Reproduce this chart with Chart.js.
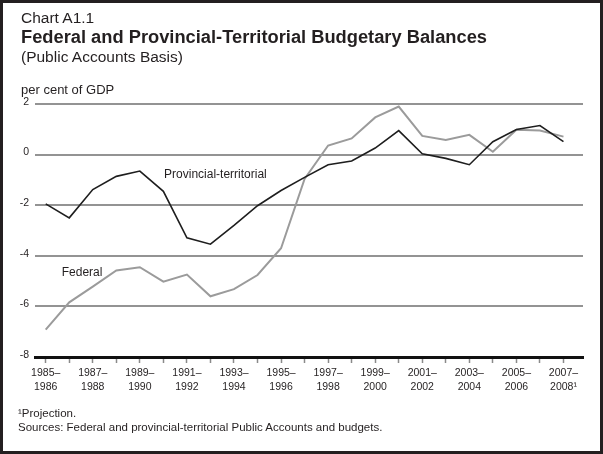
<!DOCTYPE html>
<html>
<head>
<meta charset="utf-8">
<script src="https://cdn.jsdelivr.net/npm/chart.js@4.4.1/dist/chart.umd.min.js"></script>
<style>
  html, body { margin: 0; padding: 0; background: #fff; }
  #wrap { position: relative; width: 603px; height: 454px; font-family: "Liberation Sans", Arial, Helvetica, sans-serif; color: #231f20; }
  #frame { position: absolute; left: 0; top: 0; width: 603px; height: 454px; box-sizing: border-box; border: 3px solid #231f20; pointer-events: none; }
  canvas { position: absolute; left: 0; top: 0; }
  .t { position: absolute; left: 21px; line-height: 1; white-space: nowrap; }
</style>
</head>
<body>
<div id="wrap">
  <canvas id="balanceChart" width="603" height="454"></canvas>
  <div class="t" style="top:10px; font-size:15.5px;">Chart A1.1</div>
  <div class="t" style="top:28px; font-size:18.3px; font-weight:bold;">Federal and Provincial-Territorial Budgetary Balances</div>
  <div class="t" style="top:48.5px; font-size:15.5px;">(Public Accounts Basis)</div>
  <div class="t" style="top:83px; font-size:13px;">per cent of GDP</div>
  <div class="t" style="left:18px; top:408px; font-size:11.5px;">¹Projection.</div>
  <div class="t" style="left:18px; top:421.5px; font-size:11.5px;">Sources: Federal and provincial-territorial Public Accounts and budgets.</div>
  <div id="frame"></div>
</div>
<script>
// fiscal years, 1985-1986 through 2007-2008 (last one is a projection)
const fiscalYears = [
  '1985–1986', '1986–1987', '1987–1988', '1988–1989', '1989–1990', '1990–1991',
  '1991–1992', '1992–1993', '1993–1994', '1994–1995', '1995–1996', '1996–1997',
  '1997–1998', '1998–1999', '1999–2000', '2000–2001', '2001–2002', '2002–2003',
  '2003–2004', '2004–2005', '2005–2006', '2006–2007', '2007–2008'
];

// every second year gets a two line label
const xTickLabels = [
  ['1985–', '1986'], ['1987–', '1988'], ['1989–', '1990'], ['1991–', '1992'],
  ['1993–', '1994'], ['1995–', '1996'], ['1997–', '1998'], ['1999–', '2000'],
  ['2001–', '2002'], ['2003–', '2004'], ['2005–', '2006'], ['2007–', '2008¹']
];

const yTicks = [2, 0, -2, -4, -6, -8];

// balances, per cent of GDP
const provincial = [
  -1.95, -2.5, -1.38, -0.86, -0.65, -1.45, -3.29, -3.54, -2.8, -2.02, -1.42, -0.9,
  -0.4, -0.25, 0.26, 0.95, 0.03, -0.15, -0.4, 0.51, 0.99, 1.15, 0.51
];
const federal = [
  -6.92, -5.84, -5.22, -4.58, -4.45, -5.02, -4.74, -5.6, -5.32, -4.76, -3.7, -0.96,
  0.36, 0.64, 1.47, 1.9, 0.74, 0.58, 0.78, 0.11, 0.98, 0.95, 0.71
];

const ink = '#231f20';
const font = '"Liberation Sans", Arial, Helvetica, sans-serif';

// line names written next to the lines, in data units
const lineNames = [
  { text: 'Provincial-territorial', x: 5.03, y: -0.92 },
  { text: 'Federal', x: 0.68, y: -4.79 }
];

const lineNamePlugin = {
  id: 'lineNames',
  afterDatasetsDraw(chart) {
    const { ctx, scales } = chart;
    ctx.save();
    ctx.font = '12px ' + font;
    ctx.fillStyle = ink;
    ctx.textAlign = 'left';
    ctx.textBaseline = 'alphabetic';
    lineNames.forEach(n => {
      ctx.fillText(n.text, scales.x.getPixelForValue(n.x), scales.y.getPixelForValue(n.y));
    });
    ctx.restore();
  }
};

const ctx = document.getElementById('balanceChart').getContext('2d');
new Chart(ctx, {
  type: 'line',
  data: {
    datasets: [
      {
        label: 'Provincial-territorial',
        data: provincial.map((v, i) => ({ x: i, y: v })),
        borderColor: '#1e1e1e',
        borderWidth: 1.6,
        pointRadius: 0,
        tension: 0
      },
      {
        label: 'Federal',
        data: federal.map((v, i) => ({ x: i, y: v })),
        borderColor: '#9b9b9b',
        borderWidth: 2,
        pointRadius: 0,
        tension: 0
      }
    ]
  },
  options: {
    responsive: false,
    animation: false,
    layout: { padding: { top: 104, right: 20, left: 0, bottom: 0 } },
    plugins: { legend: { display: false }, tooltip: { enabled: false } },
    scales: {
      x: {
        type: 'linear',
        min: -0.455,
        max: 22.83,
        afterBuildTicks: scale => {
          scale.ticks = fiscalYears.map((_, i) => ({ value: i }));
        },
        afterFit: scale => { scale.height = 97; },
        grid: {
          drawOnChartArea: false,
          drawTicks: true,
          tickLength: 6,
          tickColor: '#8a8a8a',
          tickWidth: 1.5
        },
        border: { display: true, color: '#111', width: 3 },
        ticks: {
          autoSkip: false,
          maxRotation: 0,
          padding: 3,
          color: ink,
          font: { family: font, size: 10.5, lineHeight: 1.33 },
          callback: (value) => (value % 2 === 0 ? xTickLabels[value / 2] : '')
        }
      },
      y: {
        min: -8,
        max: 2,
        afterBuildTicks: scale => {
          scale.ticks = yTicks.map(v => ({ value: v }));
        },
        afterFit: scale => { scale.width = 35; },
        grid: { color: '#939393', lineWidth: 2, drawTicks: false },
        border: { display: false },
        ticks: {
          padding: 6,
          labelOffset: -2,
          color: ink,
          font: { family: font, size: 10.5 }
        }
      }
    }
  },
  plugins: [lineNamePlugin]
});
</script>
</body>
</html>
